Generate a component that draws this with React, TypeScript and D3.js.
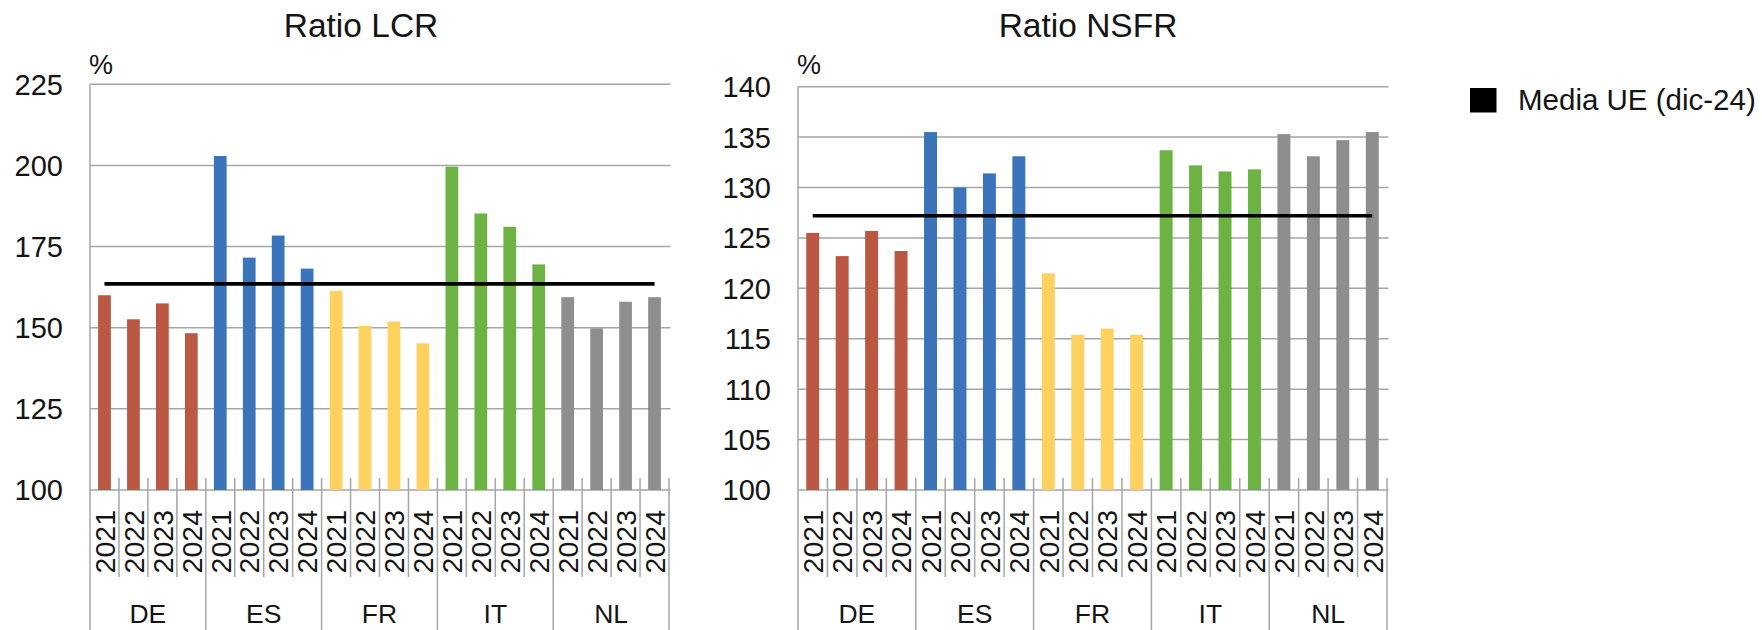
import React from 'react';
import * as d3 from 'd3';

// Categories
const countries = ['DE', 'ES', 'FR', 'IT', 'NL'];
const years = ['2021', '2022', '2023', '2024'];
const countryColors = ['#BA5844', '#3B74BA', '#FFD15F', '#6DB343', '#8E8E8E'];

// Liquidity coverage ratio (%) by country and year
const lcrDE = [160.0, 152.6, 157.5, 148.3];
const lcrES = [202.9, 171.6, 178.4, 168.2];
const lcrFR = [161.4, 150.5, 151.9, 145.2];
const lcrIT = [199.6, 185.2, 181.1, 169.5];
const lcrNL = [159.4, 149.8, 158.0, 159.4];
const lcrMeanEU = 163.5;
const lcrTicks = [100, 125, 150, 175, 200, 225];

// Net stable funding ratio (%) by country and year
const nsfrDE = [125.5, 123.2, 125.7, 123.7];
const nsfrES = [135.5, 130.0, 131.4, 133.1];
const nsfrFR = [121.5, 115.4, 116.0, 115.4];
const nsfrIT = [133.7, 132.2, 131.6, 131.8];
const nsfrNL = [135.3, 133.1, 134.7, 135.5];
const nsfrMeanEU = 127.2;
const nsfrTicks = [100, 105, 110, 115, 120, 125, 130, 135, 140];

const legendLabel = 'Media UE (dic-24)';

const FONT = '"Liberation Sans", Arial, Helvetica, sans-serif';
const TEXT = '#141414';
const GRID = '#A6A6A6';

type PanelProps = {
  title: string;
  titleX: number;
  left: number;
  right: number;
  top: number;
  bottom: number;
  ticks: number[];
  series: number[][];
  mean: number;
};

function Panel({ title, titleX, left, right, top, bottom, ticks, series, mean }: PanelProps) {
  const keys = countries.flatMap((c) => years.map((y) => `${c}-${y}`));
  const rows = countries.flatMap((c, ci) =>
    years.map((y, yi) => ({ key: `${c}-${y}`, year: y, ci, value: series[ci][yi] }))
  );

  const x = d3.scaleBand<string>().domain(keys).range([left, right]).paddingInner(0.56).paddingOuter(0.28);
  const y = d3
    .scaleLinear()
    .domain([ticks[0], ticks[ticks.length - 1]])
    .range([bottom, top]);
  const step = x.step();
  const center = (k: string) => (x(k) as number) + x.bandwidth() / 2;

  const meanLine = d3
    .line<string>()
    .x((k) => center(k))
    .y(() => y(mean));
  const meanPath = meanLine([keys[0], keys[keys.length - 1]]) as string;

  const tickTop = bottom - 12;
  const yearTickBottom = bottom + 87;
  const svgBottom = 630;

  return (
    <g>
      <text x={titleX} y={36.5} textAnchor="middle" fontSize={33.5} fill={TEXT} fontFamily={FONT}>
        {title}
      </text>
      <text x={left - 1} y={74} fontSize={27} fill={TEXT} fontFamily={FONT}>
        %
      </text>

      {/* gridlines and value labels */}
      {ticks.map((t) => (
        <g key={t}>
          <line x1={left} x2={right + 1.5} y1={y(t)} y2={y(t)} stroke={GRID} strokeWidth={1.5} />
          <text
            x={left - 27}
            y={y(t)}
            dy="0.36em"
            textAnchor="end"
            fontSize={29}
            fill={TEXT}
            fontFamily={FONT}
          >
            {t}
          </text>
        </g>
      ))}

      {/* bars */}
      {rows.map((r) => (
        <rect
          key={r.key}
          x={x(r.key)}
          y={y(r.value)}
          width={x.bandwidth()}
          height={y(ticks[0]) - y(r.value)}
          fill={countryColors[r.ci]}
        />
      ))}

      {/* EU average */}
      <path d={meanPath} stroke="#000" strokeWidth={3.6} fill="none" />

      {/* category dividers */}
      {d3.range(keys.length + 1).map((i) => {
        const xx = left + i * step;
        const isGroup = i % years.length === 0;
        return (
          <line
            key={i}
            x1={xx}
            x2={xx}
            y1={i === 0 ? top : tickTop}
            y2={isGroup ? svgBottom : yearTickBottom}
            stroke={GRID}
            strokeWidth={1.5}
          />
        );
      })}

      {/* year labels */}
      {rows.map((r) => (
        <text
          key={`l-${r.key}`}
          transform={`translate(${center(r.key)},${bottom + 20}) rotate(-90)`}
          dy="0.36em"
          textAnchor="end"
          fontSize={28.5}
          fill={TEXT}
          fontFamily={FONT}
        >
          {r.year}
        </text>
      ))}

      {/* country labels */}
      {countries.map((c, ci) => (
        <text
          key={c}
          x={left + (ci * years.length + years.length / 2) * step}
          y={623}
          textAnchor="middle"
          fontSize={26.5}
          fill={TEXT}
          fontFamily={FONT}
        >
          {c}
        </text>
      ))}
    </g>
  );
}

export default function App() {
  return (
    <svg
      width={1762}
      height={630}
      style={{ position: 'absolute', left: 0, top: 0, background: '#fff' }}
    >
      <rect width={1762} height={630} fill="#fff" />
      <Panel
        title="Ratio LCR"
        titleX={361}
        left={90}
        right={669}
        top={84.3}
        bottom={490}
        ticks={lcrTicks}
        series={[lcrDE, lcrES, lcrFR, lcrIT, lcrNL]}
        mean={lcrMeanEU}
      />
      <Panel
        title="Ratio NSFR"
        titleX={1088}
        left={798}
        right={1387}
        top={86.7}
        bottom={490}
        ticks={nsfrTicks}
        series={[nsfrDE, nsfrES, nsfrFR, nsfrIT, nsfrNL]}
        mean={nsfrMeanEU}
      />
      <g>
        <rect x={1470} y={88} width={26.5} height={24.5} fill="#000" />
        <text x={1518} y={110} fontSize={29.5} fill={TEXT} fontFamily={FONT}>
          {legendLabel}
        </text>
      </g>
    </svg>
  );
}
